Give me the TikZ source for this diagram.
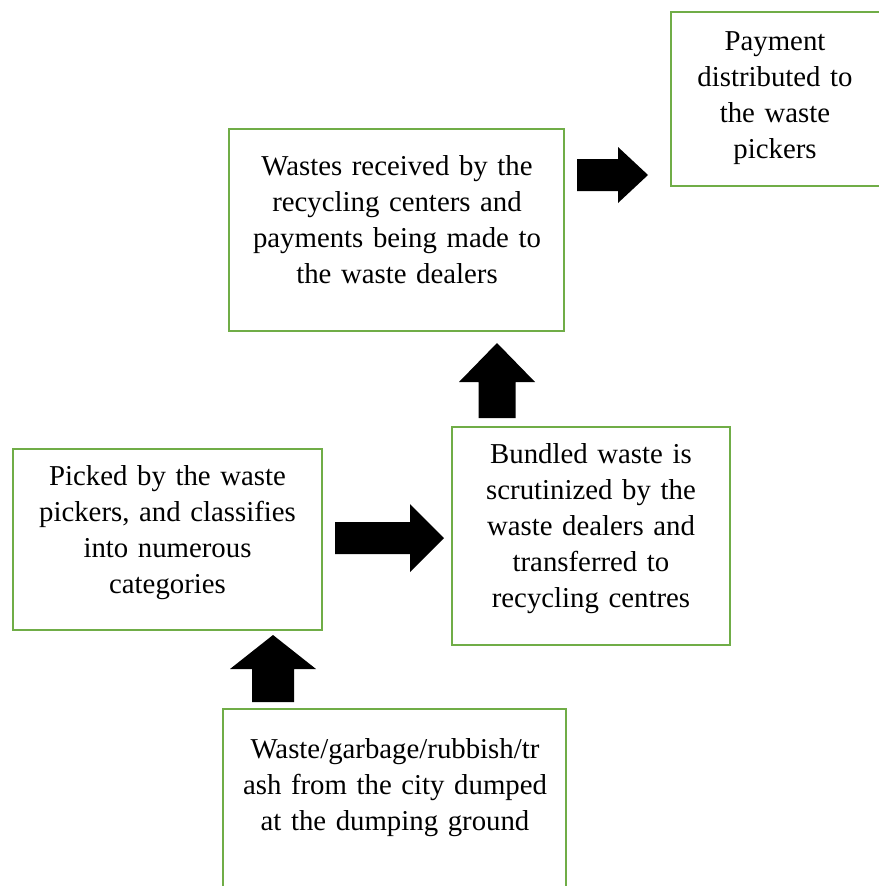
\documentclass[tikz,border=0pt]{standalone}
\usepackage{fontspec}
\setmainfont{Liberation Serif}
\usepackage{tikz}
\usetikzlibrary{positioning}
\definecolor{boxgreen}{RGB}{112,173,71}
\tikzset{flowbox/.style={draw=boxgreen, line width=2.4pt, inner sep=0pt}}
\tikzset{flowtext/.style={anchor=base, align=center, text width=330pt, inner sep=0pt, font=\fontsize{28.8}{36.2}\selectfont}}

\begin{document}
\begin{tikzpicture}[x=1pt,y=-1pt]
\useasboundingbox (0,0) rectangle (878,886);

% boxes
\node[flowbox, minimum width=210pt, minimum height=174pt] (pay) at (776,99) {};
\node[flowbox, minimum width=335pt, minimum height=202pt] (recv) at (396.5,230) {};
\node[flowbox, minimum width=309pt, minimum height=181pt] (pick) at (167.5,539.5) {};
\node[flowbox, minimum width=278pt, minimum height=218pt] (bund) at (591,536) {};
\node[flowbox, minimum width=343pt, minimum height=191pt] (dump) at (394.5,804.5) {};

% texts
\node[flowtext] (paytext) at (775,50) {Payment\\distributed to\\the waste\\pickers};
\node[flowtext] (recvtext) at (397,175) {Wastes received by the\\recycling centers and\\payments being made to\\the waste dealers};
\node[flowtext] (picktext) at (167.5,485) {Picked by the waste\\pickers, and classifies\\into numerous\\categories};
\node[flowtext] (bundtext) at (591,463) {Bundled waste is\\scrutinized by the\\waste dealers and\\transferred to\\recycling centres};
\node[flowtext] (dumptext) at (395,758) {Waste/garbage/rubbish/tr\\ash from the city dumped\\at the dumping ground};

% block arrows
\fill[black] (577,159) -- (618,159) -- (618,147) -- (648,175) -- (618,203) -- (618,191) -- (577,191) -- cycle;
\fill[black] (478.5,418) -- (478.5,382) -- (459,382) -- (497,343) -- (535,382) -- (515.5,382) -- (515.5,418) -- cycle;
\fill[black] (335,522) -- (410,522) -- (410,504) -- (444,538) -- (410,572) -- (410,554) -- (335,554) -- cycle;
\fill[black] (252,702) -- (252,669) -- (230,669) -- (273,635) -- (316,669) -- (294,669) -- (294,702) -- cycle;

\end{tikzpicture}
\end{document}
